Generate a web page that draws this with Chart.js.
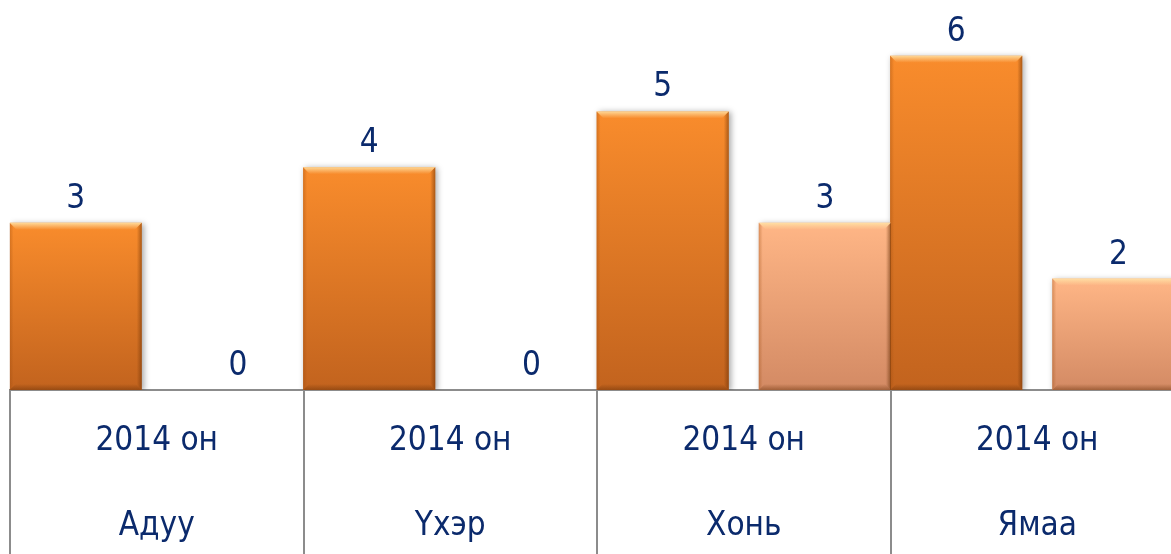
<!DOCTYPE html>
<html><head><meta charset="utf-8">
<script src="https://cdn.jsdelivr.net/npm/chart.js@4/dist/chart.umd.min.js"></script>
<style>html,body{margin:0;padding:0;overflow:hidden;background:#fff;width:1171px;height:554px}canvas{display:block}</style>
</head><body>
<canvas id="c" width="1184" height="554"></canvas>
<script>
// ---- data ----
const categories = ['Адуу', 'Үхэр', 'Хонь', 'Ямаа'];
const yearLabel = '2014 он';
const seriesA = [3, 4, 5, 6];
const seriesB = [0, 0, 3, 2];
const seriesNames = ['2014 он', 'Цуврал 2'];

const FONT = "'DejaVu Sans Condensed', 'DejaVu Sans', sans-serif";
const NAVY = '#0b2a6c';
const AXIS = '#8c8c8c';

function barGrad(ctx, top, bottom) {
  const chart = ctx.chart;
  const s = chart.scales && chart.scales.y;
  if (!s || ctx.raw === undefined || !ctx.raw) return top;
  const y0 = s.getPixelForValue(0), y1 = s.getPixelForValue(ctx.raw);
  if (!isFinite(y0) || !isFinite(y1) || y0 === y1) return top;
  const g = chart.ctx.createLinearGradient(0, y1, 0, y0);
  g.addColorStop(0, top);
  g.addColorStop(1, bottom);
  return g;
}

const bevelPlugin = {
  id: 'bevel',
  beforeDatasetsDraw(chart) {
    const c = chart.ctx;
    c.save();
    c.shadowColor = 'rgba(0,0,0,0.35)';
    c.shadowBlur = 6;
    c.shadowOffsetX = 2;
    c.shadowOffsetY = 1;
  },
  afterDatasetsDraw(chart) {
    const c = chart.ctx;
    c.restore();
    c.save();
    chart.data.datasets.forEach((ds, di) => {
      const meta = chart.getDatasetMeta(di);
      meta.data.forEach((el) => {
        const h = el.base - el.y;
        if (!(h > 2)) return;
        const l = el.x - el.width / 2, r = el.x + el.width / 2, t = el.y, b = el.base;
        const e = 7;
        let g = c.createLinearGradient(0, t, 0, t + e);
        g.addColorStop(0, 'rgba(255,230,170,0.85)');
        g.addColorStop(1, 'rgba(255,220,160,0)');
        c.fillStyle = g;
        c.beginPath(); c.moveTo(l, t); c.lineTo(r, t); c.lineTo(r - e, t + e); c.lineTo(l + e, t + e); c.closePath(); c.fill();
        g = c.createLinearGradient(r, 0, r - 5, 0);
        g.addColorStop(0, 'rgba(110,50,5,0.55)');
        g.addColorStop(1, 'rgba(110,50,5,0)');
        c.fillStyle = g;
        c.beginPath(); c.moveTo(r, t); c.lineTo(r, b); c.lineTo(r - 5, b - 5); c.lineTo(r - 5, t + 5); c.closePath(); c.fill();
        g = c.createLinearGradient(l, 0, l + 4, 0);
        g.addColorStop(0, 'rgba(150,70,10,0.35)');
        g.addColorStop(1, 'rgba(150,70,10,0)');
        c.fillStyle = g;
        c.beginPath(); c.moveTo(l, t); c.lineTo(l, b); c.lineTo(l + 4, b - 4); c.lineTo(l + 4, t + 4); c.closePath(); c.fill();
        g = c.createLinearGradient(0, b, 0, b - 6);
        g.addColorStop(0, 'rgba(100,45,5,0.45)');
        g.addColorStop(1, 'rgba(100,45,5,0)');
        c.fillStyle = g;
        c.beginPath(); c.moveTo(l, b); c.lineTo(r, b); c.lineTo(r - 6, b - 6); c.lineTo(l + 6, b - 6); c.closePath(); c.fill();
      });
    });
    c.restore();
    c.save();
    c.font = '33px ' + FONT;
    c.fillStyle = NAVY;
    c.textAlign = 'center';
    c.textBaseline = 'alphabetic';
    chart.data.datasets.forEach((ds, di) => {
      const meta = chart.getDatasetMeta(di);
      meta.data.forEach((el, i) => {
        c.fillText(String(ds.data[i]), el.x, el.y - 15);
      });
    });
    c.restore();
  }
};

new Chart(document.getElementById('c'), {
  type: 'bar',
  data: {
    labels: categories.map(n => [yearLabel, n]),
    datasets: [
      {
        label: seriesNames[0],
        data: seriesA,
        backgroundColor: (ctx) => barGrad(ctx, '#f98c2c', '#c2631e'),
        borderWidth: 0,
        categoryPercentage: 1.105,
        barPercentage: 0.815
      },
      {
        label: seriesNames[1],
        data: seriesB,
        backgroundColor: (ctx) => barGrad(ctx, '#ffb686', '#d38a64'),
        borderWidth: 0,
        categoryPercentage: 1.105,
        barPercentage: 0.815
      }
    ]
  },
  options: {
    responsive: false,
    animation: false,
    devicePixelRatio: 1,
    layout: { padding: { left: 10, right: 0, top: 0, bottom: 0 } },
    plugins: { legend: { display: false }, tooltip: { enabled: false } },
    scales: {
      x: {
        grid: { offset: true, drawOnChartArea: false, drawTicks: true, tickLength: 164, color: AXIS, lineWidth: 2 },
        border: { display: true, color: AXIS, width: 2 },
        ticks: {
          color: NAVY,
          font: { family: FONT, size: 33, lineHeight: 2.56 },
          padding: -154.75,
          maxRotation: 0,
          autoSkip: false
        },
        afterFit: (s) => { s.height = 164; }
      },
      y: {
        display: false,
        min: 0,
        max: 7
      }
    }
  },
  plugins: [bevelPlugin]
});
</script>
</body></html>
